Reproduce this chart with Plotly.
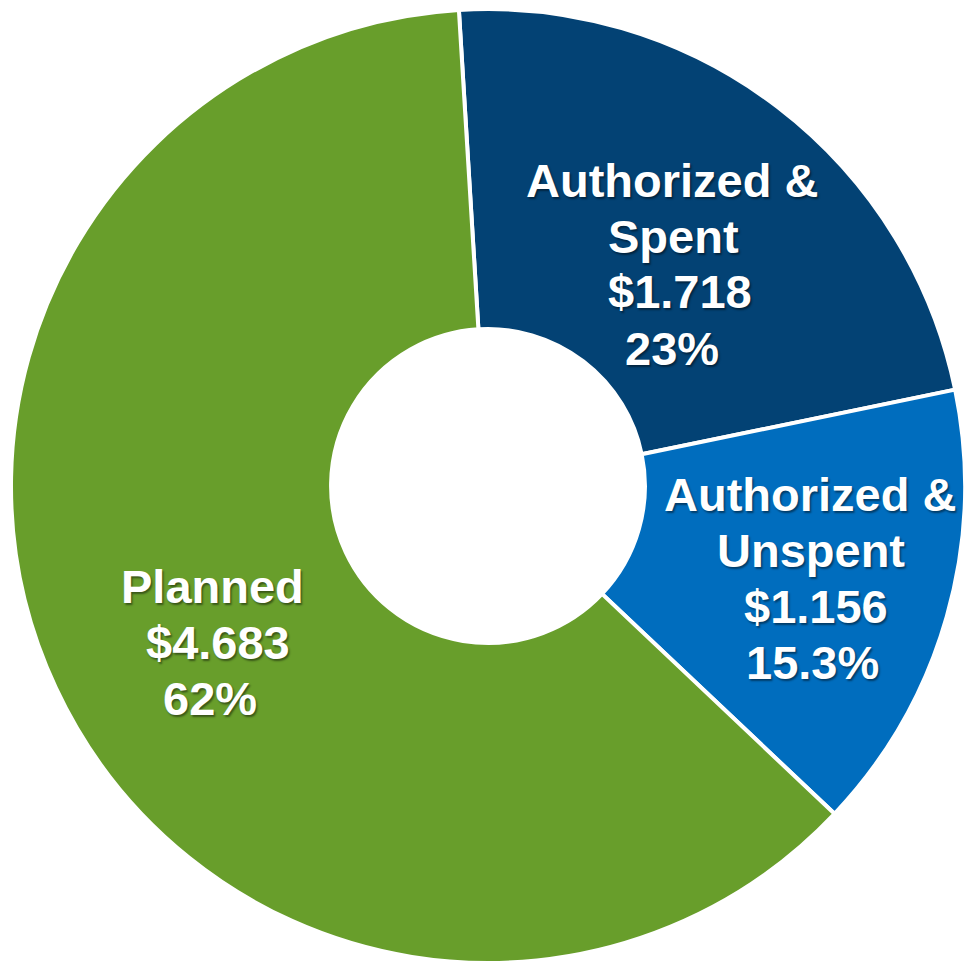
import plotly.graph_objects as go

# ---- data ----
categories = ["Authorized & Spent", "Authorized & Unspent", "Planned"]
name_lines = [["Authorized &", "Spent"], ["Authorized &", "Unspent"], ["Planned"]]
values = [1.718, 1.156, 4.683]
value_labels = ["$1.718", "$1.156", "$4.683"]
pct_labels = ["23%", "15.3%", "62%"]

# ---- style / layout ----
colors = ["#034274", "#006DBE", "#689E2B"]
W, H = 965, 967
# label anchors in pixels (centre of first line) and per-line x centres
label_first_line_y = [182, 496, 588]
label_line_x = [[672, 673, 680, 672], [810, 811, 816, 812], [212, 218, 210]]
line_step = 56
font_size = 47

fig = go.Figure(go.Pie(
    labels=categories,
    values=values,
    sort=False,
    direction="clockwise",
    rotation=-3.5,
    hole=0.329,
    marker=dict(colors=colors, line=dict(color="white", width=4)),
    textinfo="none",
    hoverinfo="label+value+percent",
    showlegend=False,
    domain=dict(x=[11 / W, 1.0], y=[1 - 964 / H, 1 - 8 / H]),
))

annotations = []
for i, cat in enumerate(categories):
    lines = name_lines[i] + [value_labels[i], pct_labels[i]]
    for j, line in enumerate(lines):
        py = label_first_line_y[i] + j * line_step - 2
        px = label_line_x[i][j]
        annotations.append(dict(
            text=f"<b>{line}</b>",
            x=px / W, y=1 - py / H, xref="paper", yref="paper",
            xanchor="center", yanchor="middle", showarrow=False,
            font=dict(family="Liberation Sans, Arial, sans-serif", size=font_size,
                      color="white", shadow="1.5px 1.5px 2px rgba(0,0,0,0.45)"),
        ))

fig.update_layout(
    width=W, height=H,
    margin=dict(l=0, r=0, t=0, b=0),
    paper_bgcolor="white", plot_bgcolor="white",
    annotations=annotations,
)

fig.write_html(
    "out.html",
    config={"displayModeBar": False},
    post_script="document.body.style.margin='0';document.body.style.overflow='hidden';",
)
